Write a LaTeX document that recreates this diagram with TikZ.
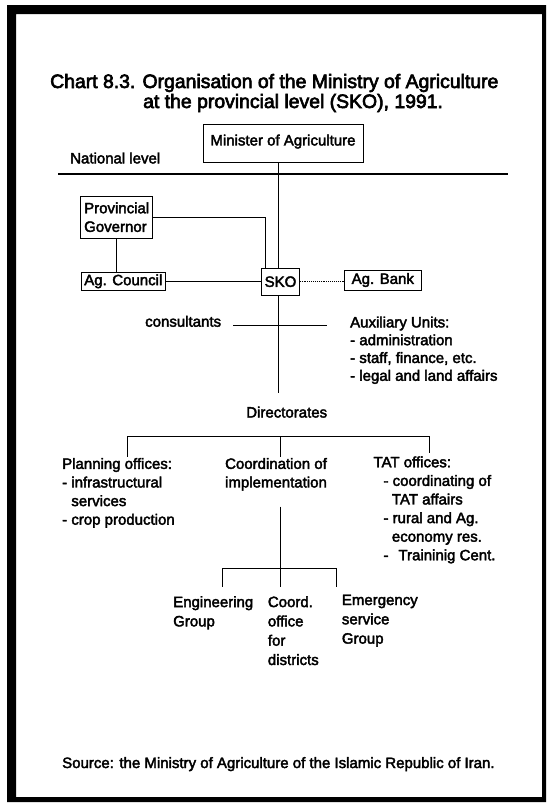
\documentclass[tikz,border=0pt]{standalone}
\usepackage{fontspec}
\newfontfamily\chartface{Liberation Sans}[FakeBold=2.6]
\newfontfamily\headface{Liberation Sans}[FakeBold=3.2]
\newcommand\chtext{\chartface\fontsize{15}{18.6}\selectfont}
\newcommand\chsub{\chartface\fontsize{15}{19.3}\selectfont}
\newcommand\chhead{\headface\fontsize{19.4}{21}\selectfont}
\tikzset{
  box/.style={draw, line width=0.9pt, inner sep=0pt, fill=white, font=\chtext},
  txt/.style={inner sep=0pt, font=\chtext, align=left},
  subtxt/.style={inner sep=0pt, font=\chsub, align=left},
  conn/.style={line width=0.9pt},
}
\begin{document}
\begin{tikzpicture}[x=1pt, y=-1pt]
\useasboundingbox (0,0) rectangle (547,804);
% heavy outer frame
\fill[black, even odd rule] (7,5) rectangle (546,802) (16,14) rectangle (542,797);

% heading
\node[inner sep=0pt, font=\chhead, anchor=base west] (title1) at (50,88)
  {Chart 8.3. Organisation of the Ministry of Agriculture};
\node[inner sep=0pt, font=\chhead, anchor=base west] (title2) at (143,108)
  {at the provincial level (SKO), 1991.};

% national level
\node[box, anchor=north, minimum width=160pt, text height=21pt, text depth=17pt]
  (minister) at (283,124) {Minister of Agriculture};
\node[txt, anchor=base west] (national) at (70,163.4) {National level};
\coordinate (natW) at (58,174);
\coordinate (natE) at (508,174);
\draw[line width=1.8pt] (natW) -- (natE);

% provincial level
\node[box, align=left, minimum width=72pt, minimum height=42.3pt]
  (provgov) at (116.7,217.2) {Provincial\\Governor};
\node[box, minimum width=83.3pt, minimum height=18.7pt]
  (agcouncil) at (123.3,281.3) {Ag. Council};
\node[box, minimum width=37.6pt, minimum height=26.7pt]
  (sko) at (280.5,281.7) {SKO};
\node[box, minimum width=77.7pt, minimum height=20pt]
  (agbank) at (382.8,280) {Ag. Bank};

\coordinate (tk) at (278,393);
\coordinate (pgturn) at (265,217.3);
\draw[conn] (minister.south -| tk) -- (sko.north -| tk);
\draw[conn] (sko.south -| tk) -- (tk);
\draw[conn] (provgov.east |- pgturn) -- (pgturn) -- (sko.north -| pgturn);
\draw[conn] (provgov.south) -- (agcouncil.north -| provgov.south);
\draw[conn] (agcouncil.east) -- (sko.west |- agcouncil.east);
\draw[conn, densely dotted] (sko.east) -- (agbank.west |- sko.east);

% consultants and auxiliary units
\node[txt, anchor=base west] (consultants) at (145,326.7) {consultants};
\coordinate (cnW) at (233.3,325);
\coordinate (cnE) at (326.7,325);
\draw[conn] (cnW) -- (cnE);
\node[txt, anchor=north west, font=\chartface\fontsize{15}{17.8}\selectfont]
  (auxunits) at (350,316.3)
  {Auxiliary Units:\\- administration\\- staff, finance, etc.\\- legal and land affairs};

% directorates
\node[txt, anchor=base] (directorates) at (286.7,417.5) {Directorates};
\coordinate (dirL) at (127.3,436.7);
\coordinate (dirM) at (280,436.7);
\coordinate (dirR) at (429.3,436.7);
\coordinate (dropL) at (127.3,456.7);
\coordinate (dropM) at (280,456.7);
\coordinate (dropR) at (429.3,453);
\draw[conn] (dropL) -- (dirL) -- (dirR) -- (dropR);
\draw[conn] (dirM) -- (dropM);

\node[txt, anchor=north west] (planning) at (62,457.8)
  {Planning offices:\\- infrastructural\\\hphantom{- }services\\- crop production};
\node[txt, anchor=north, align=center] (coordination) at (276,457.8)
  {Coordination of\\implementation};
\node[txt, anchor=north west] (tat) at (373.3,456.2)
  {TAT offices:\\\hspace*{10pt}- coordinating of\\\hspace*{18.4pt}TAT affairs\\\hspace*{10pt}- rural and Ag.\\\hspace*{18.4pt}economy res.\\\hspace*{10pt}-\hspace*{10pt}Traininig Cent.};

% implementation groups
\coordinate (implTop) at (280,506.7);
\coordinate (grpM) at (280,568.3);
\coordinate (grpL) at (222.7,568.3);
\coordinate (grpR) at (336,568.3);
\coordinate (grpLd) at (222.7,586.7);
\coordinate (grpMd) at (280,586.7);
\coordinate (grpRd) at (336,586.7);
\draw[conn] (implTop) -- (grpM);
\draw[conn] (grpLd) -- (grpL) -- (grpR) -- (grpRd);
\draw[conn] (grpM) -- (grpMd);

\node[subtxt, anchor=north west] (engineering) at (173,596) {Engineering\\Group};
\node[subtxt, anchor=north west] (coordoffice) at (267.7,596) {Coord.\\office\\for\\districts};
\node[subtxt, anchor=north west] (emergency) at (341.7,594.5) {Emergency\\service\\Group};

% source line
\node[txt, anchor=base west] (source) at (62,768)
  {Source: the Ministry of Agriculture of the Islamic Republic of Iran.};
\end{tikzpicture}
\end{document}
